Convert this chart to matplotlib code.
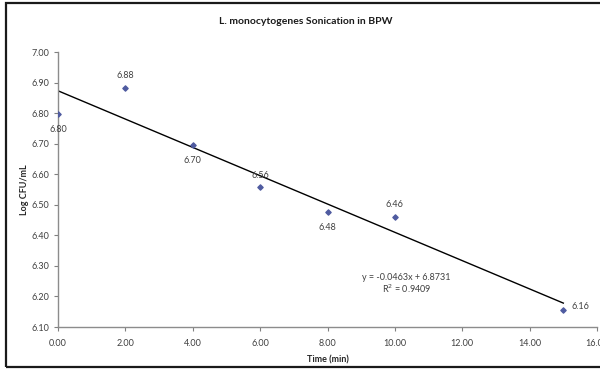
import numpy as np
import matplotlib
matplotlib.use("Agg")
import matplotlib.pyplot as plt
from matplotlib.patches import Rectangle

# data
time_min = [0, 2, 4, 6, 8, 10, 15]
log_cfu = [6.797, 6.881, 6.696, 6.558, 6.477, 6.461, 6.157]
point_labels = ["6.80", "6.88", "6.70", "6.56", "6.48", "6.46", "6.16"]
x_ticks = [0, 2, 4, 6, 8, 10, 12, 14, 16]
y_ticks = [6.10, 6.20, 6.30, 6.40, 6.50, 6.60, 6.70, 6.80, 6.90, 7.00]

plt.rcParams['font.family'] = ['Lato', 'DejaVu Sans']

fig = plt.figure(figsize=(6, 3.69), dpi=100)
W, H = 600, 369
ax = fig.add_axes([58 / W, 1 - 327 / H, (597 - 58) / W, (327 - 52) / H])

# outer chart frame
fig.patches.append(Rectangle((6 / W, 2 / H), 1.0, 1 - 5 / H, transform=fig.transFigure,
                             fill=False, edgecolor='#1a1a1a', linewidth=1.6))

ax.scatter(time_min, log_cfu, marker='D', s=7, color='#4F5BA0', zorder=3)

# linear trendline
slope, icpt = np.polyfit(time_min, log_cfu, 1)
xs = np.array([0, 15])
ax.plot(xs, slope * xs + icpt, color='black', linewidth=1.0)

# data labels: (dx, dy) offsets in points
offsets = [(0, -11), (0, 9), (0, -11), (0, 8), (0, -11), (0, 9), (12, 2)]
for x, y, lab, (dx, dy) in zip(time_min, log_cfu, point_labels, offsets):
    ax.annotate(lab, (x, y), xytext=(dx, dy), textcoords='offset points',
                ha='center', va='center', fontsize=6.5, color='#404040')

ax.text(10.35, 6.262, "y = -0.0463x + 6.8731", ha='center', va='center',
        fontsize=6.5, color='#404040')
ax.text(10.35, 6.224, "R$^2$ = 0.9409", ha='center', va='center',
        fontsize=6.5, color='#404040')

ax.set_xlim(0, 16)
ax.set_ylim(6.10, 7.00)
ax.set_xticks(x_ticks)
ax.set_xticklabels([f"{t:.2f}" for t in x_ticks])
ax.set_yticks(y_ticks)
ax.set_yticklabels([f"{t:.2f}" for t in y_ticks])
ax.tick_params(labelsize=6.5, labelcolor='#404040', color='#808080',
               length=3, width=0.8, pad=3)
ax.tick_params(axis='x', pad=6)
for s in ['top', 'right']:
    ax.spines[s].set_visible(False)
for s in ['left', 'bottom']:
    ax.spines[s].set_color('#8c8c8c')
    ax.spines[s].set_linewidth(1.0)

ax.set_xlabel("Time (min)", fontsize=6.5, fontweight='bold', color='#262626', labelpad=5)
ax.set_ylabel("Log CFU/mL", fontsize=6.5, fontweight='bold', color='#262626', labelpad=2)
fig.text(306 / W, 1 - 21 / H, "L. monocytogenes Sonication in BPW", ha='center',
         va='center', fontsize=7.5, fontweight='bold', color='#1a1a1a')

fig.savefig("out.png", dpi=100)
